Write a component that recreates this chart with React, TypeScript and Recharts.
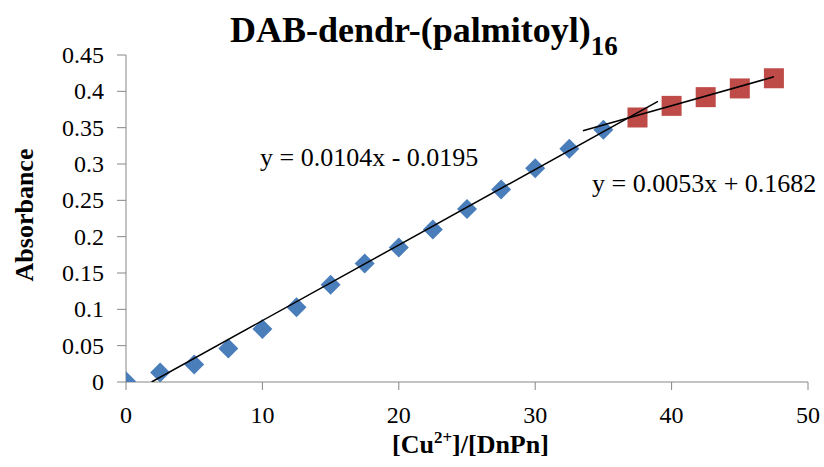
import React from 'react';
import { ScatterChart, Scatter, XAxis, YAxis } from 'recharts';

// [Cu2+]/[DnPn] ratios and absorbance readings
const xBlue = [0, 2.5, 5, 7.5, 10, 12.5, 15, 17.5, 20, 22.5, 25, 27.5, 30, 32.5, 35];
const yBlue = [0.001, 0.013, 0.024, 0.046, 0.073, 0.103, 0.134, 0.163, 0.185, 0.21, 0.238, 0.265, 0.294, 0.321, 0.347];
const xRed = [37.5, 40, 42.5, 45, 47.5];
const yRed = [0.364, 0.38, 0.392, 0.404, 0.418];

// linear fits as printed on the chart, with the x range each one covers
const fit1 = { slope: 0.0104, intercept: -0.0195, from: 1.875, to: 39 };
const fit2 = { slope: 0.0053, intercept: 0.1682, from: 33.5, to: 47.5 };

const xTicks = [0, 10, 20, 30, 40, 50];
const yTicks = [0, 0.05, 0.1, 0.15, 0.2, 0.25, 0.3, 0.35, 0.4, 0.45];

const blueData = xBlue.map((x, i) => ({ x, y: yBlue[i] }));
const redData = xRed.map((x, i) => ({ x, y: yRed[i] }));
const fitLine = (f) => [f.from, f.to].map((x) => ({ x, y: f.slope * x + f.intercept }));

const FONT = "'Liberation Serif', 'Times New Roman', serif";
const AXIS = '#868686';

const Diamond = (props: any) => {
    const { cx, cy } = props;
    const r = 10;
    return <polygon points={`${cx},${cy - r} ${cx + r},${cy} ${cx},${cy + r} ${cx - r},${cy}`} fill="#4A7EBB" />;
};

const Square = (props: any) => {
    const { cx, cy } = props;
    const h = 10;
    return <rect x={cx - h} y={cy - h} width={h * 2} height={h * 2} fill="#BE4B48" />;
};

const NoDot = () => null;

const renderXTick = (props: any) => {
    const { x, y, payload } = props;
    return (
        <text key={`xt-${payload.value}`} className="tick-label" x={x} y={y + 31} textAnchor="middle" fontFamily={FONT} fontSize={24} fill="#000">
            {payload.value}
        </text>
    );
};

const renderYTick = (props: any) => {
    const { x, y, payload } = props;
    return (
        <text key={`yt-${payload.value}`} className="tick-label" x={x} y={y + 8} textAnchor="end" fontFamily={FONT} fontSize={24} fill="#000">
            {String(payload.value)}
        </text>
    );
};

export default function App() {
    return (
        <div style={{ position: 'absolute', left: 0, top: 0, width: 824, height: 467, background: '#fff', fontFamily: FONT }}>
            <style>{`svg text { font-family: 'Liberation Serif', 'Times New Roman', serif !important; }`}</style>
            <ScatterChart width={824} height={467} margin={{ top: 55, right: 16, bottom: 55, left: 0 }}>
                <XAxis
                    type="number"
                    dataKey="x"
                    domain={[0, 50]}
                    ticks={xTicks}
                    stroke={AXIS}
                    tickSize={8}
                    tickMargin={2}
                    tick={renderXTick}
                    height={30}
                    allowDataOverflow
                />
                <YAxis
                    type="number"
                    dataKey="y"
                    domain={[0, 0.45]}
                    ticks={yTicks}
                    width={126}
                    stroke={AXIS}
                    tickSize={9}
                    tickMargin={13}
                    tick={renderYTick}
                    allowDataOverflow
                />
                <Scatter data={blueData} shape={<Diamond />} isAnimationActive={false} />
                <Scatter data={redData} shape={<Square />} isAnimationActive={false} />
                <Scatter data={fitLine(fit1)} line={{ stroke: '#000', strokeWidth: 1.5 }} shape={<NoDot />} isAnimationActive={false} />
                <Scatter data={fitLine(fit2)} line={{ stroke: '#000', strokeWidth: 1.5 }} shape={<NoDot />} isAnimationActive={false} />
            </ScatterChart>

            {/* title, equations and axis titles */}
            <svg width={824} height={467} style={{ position: 'absolute', left: 0, top: 0, pointerEvents: 'none' }} fontFamily={FONT}>
                <text x={230} y={42} fontSize={36} fontWeight="bold" fill="#000">
                    DAB-dendr-(palmitoyl)
                    <tspan fontSize={27} dy={13}>16</tspan>
                </text>
                <text x={260} y={166} fontSize={26} fill="#000">y = 0.0104x - 0.0195</text>
                <text x={592} y={192} fontSize={26} fill="#000">y = 0.0053x + 0.1682</text>
                <text x={392} y={453} fontSize={26} fontWeight="bold" fill="#000">
                    [Cu<tspan fontSize={17} dy={-10}>2+</tspan>
                    <tspan dy={10}>]/[DnPn]</tspan>
                </text>
                <text x={33} y={215} fontSize={26} fontWeight="bold" fill="#000" textAnchor="middle" transform="rotate(-90 33 215)">
                    Absorbance
                </text>
            </svg>
        </div>
    );
}
